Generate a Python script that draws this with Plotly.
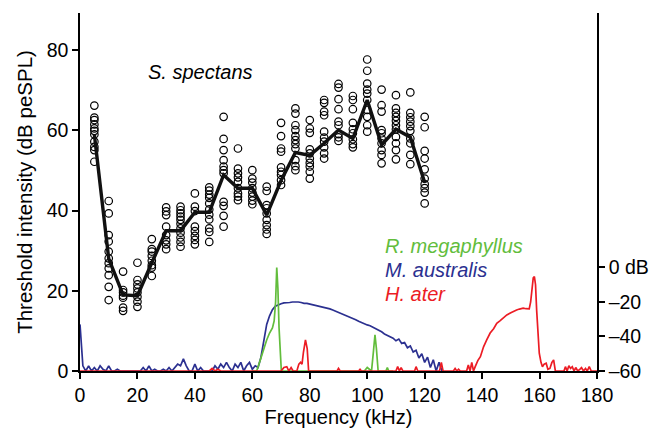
import plotly.graph_objects as go

# --- Behavioural thresholds of S. spectans ---
freqs = [5, 10, 15, 20, 25, 30, 35, 40, 45, 50, 55, 60, 65, 70, 75, 80, 85, 90, 95, 100, 105, 110, 115, 120]
thresholds = [
    [66.2, 63.2, 62.6, 61.5, 60.5, 59.9, 59.0, 57.2, 55.9, 55.1, 52.2],
    [42.4, 39.3, 33.9, 32.3, 29.8, 28.1, 26.9, 25.6, 23.9, 21.0, 17.7],
    [24.8, 20.2, 19.6, 18.8, 18.3, 15.8, 15.0],
    [27.0, 22.7, 21.6, 20.6, 19.6, 18.5, 17.3, 16.0],
    [32.9, 30.4, 29.8, 28.7, 27.5, 26.4, 25.8, 23.7],
    [40.8, 39.8, 38.9, 36.0, 33.9, 32.6, 31.6, 30.4],
    [41.0, 40.1, 39.3, 38.5, 37.7, 36.7, 35.6, 34.5, 33.3, 32.2, 31.0],
    [44.3, 41.0, 39.9, 36.0, 34.9, 33.7, 32.7, 31.6],
    [45.8, 45.0, 44.0, 43.2, 41.8, 40.3, 39.0, 37.8, 35.6, 34.7, 32.2],
    [63.4, 57.9, 55.1, 52.6, 51.0, 50.1, 49.3, 42.2, 41.2, 38.7, 36.0],
    [55.5, 50.5, 49.3, 48.3, 47.2, 45.6, 44.3, 43.5, 42.6],
    [50.1, 48.0, 47.0, 45.6, 44.5, 43.5, 42.5, 41.6],
    [46.0, 44.9, 41.4, 40.6, 39.3, 37.7, 36.4, 35.3, 34.2],
    [61.9, 58.6, 55.5, 54.7, 50.8, 49.7, 48.9, 47.6, 46.4],
    [65.5, 64.2, 61.3, 60.1, 58.6, 57.6, 56.6, 55.5, 52.6, 51.1, 50.1],
    [62.6, 60.5, 59.4, 55.3, 54.3, 53.0, 51.9, 51.0, 49.7, 48.0],
    [67.6, 66.9, 64.7, 63.8, 59.7, 58.2, 57.2, 55.8, 54.3, 53.0],
    [71.6, 70.7, 67.8, 65.3, 62.2, 61.3, 59.1, 58.3, 57.4],
    [68.6, 67.6, 65.3, 61.9, 60.3, 59.3, 57.8, 56.6, 55.8],
    [77.7, 74.9, 71.7, 70.2, 69.2, 67.6, 65.1, 63.4, 61.3, 59.7],
    [70.2, 66.3, 64.7, 60.1, 59.3, 58.0, 56.8, 55.1, 53.9, 51.8],
    [68.8, 65.5, 64.4, 63.4, 62.4, 61.3, 60.3, 58.4, 56.8, 55.1, 52.8],
    [69.5, 64.4, 63.3, 62.2, 61.1, 59.9, 58.0, 56.8, 53.9, 51.6],
    [63.4, 60.8, 54.9, 53.0, 50.3, 48.0, 46.6, 45.6, 44.5, 41.8],
]
mean_threshold = [59.0, 28.0, 19.0, 18.8, 27.0, 35.0, 35.0, 39.6, 39.6, 48.9, 45.6, 45.6,
                  38.9, 47.5, 54.5, 53.8, 56.8, 60.1, 58.0, 67.6, 56.4, 60.3, 58.3, 47.0]

# --- Echolocation call spectra (relative dB) ---
australis_khz = list(range(0, 127))
australis_db = [
    -33, -57, -60, -57, -60, -58, -60, -57, -59, -60,
    -57, -60, -60, -59, -60, -60, -60, -60, -60, -60,
    -60, -60, -58, -60, -57, -60, -59, -60, -60, -59,
    -60, -58, -60, -58, -56, -57, -53, -57, -60, -60,
    -56, -60, -58, -60, -60, -60, -60, -57, -59, -56,
    -58, -55, -58, -60, -56, -58, -55, -60, -57, -55,
    -59, -57, -58, -52, -42, -33, -28, -24.5, -22.5, -21.5,
    -21, -20.5, -20.5, -20.3, -20, -19.8, -20, -20.3, -20.8, -20.8,
    -21.2, -21.5, -21.6, -22, -22.4, -23, -23.3, -24, -24.6, -25.3,
    -25.8, -26.6, -27.3, -28, -28.8, -29.5, -30.3, -31.2, -32, -32.5,
    -33.3, -33.8, -34.6, -35.5, -36.4, -37.3, -38.5, -39.2, -40.3, -41,
    -42.5, -41.5, -44, -43.5, -46.5, -45.5, -49, -48, -52.5, -50,
    -55, -52, -58, -53.5, -60, -55, -60,
]

megaphyllus_khz = [60, 61.5, 62.5, 63.8, 65, 66, 67, 67.6, 68.1, 68.5, 68.9, 69.3, 69.7, 70.1, 71,
                   99, 100, 101.5, 102.2, 102.7, 103.2, 103.8, 105, 106.5, 107, 107.5, 109]
megaphyllus_db = [-60, -60, -55, -48, -42, -38, -35, -31, -20, 0, -12, -35, -50, -60, -60,
                  -60, -58, -60, -48, -39, -47, -60, -60, -60, -58, -60, -60]

ater_khz = [0, 45, 46, 47, 48, 49,
            70, 71, 72, 72.7, 73.5, 74.2, 75.5, 76.2, 76.8, 77.3, 77.8, 78.5, 79.1, 79.6, 80,
            89.5, 90, 90.6, 97, 97.5, 98,
            110, 110.6, 111.2, 111.8, 112.4, 116.5, 117, 117.6,
            125.2, 125.8, 126.4, 130, 130.6, 131.2, 131.8, 132.4,
            134.6, 135.2, 135.8, 136.4, 137, 137.6,
            138.5, 139.4, 140.5, 141.6, 142.8, 144, 145.1, 146.3, 147.5, 148.6, 150, 151, 152, 153,
            154.3, 155.3, 156.4, 156.9, 157.3, 157.8, 158.2, 158.6, 159, 159.4, 159.9, 160.5, 161,
            161.6, 162.3, 162.9, 163.6, 164.3, 164.9, 165.5, 166,
            168.5, 169, 169.6, 170.2, 170.8, 171.4, 172, 172.6, 173.3, 174, 174.6, 175.3, 176,
            176.6, 177.3, 178, 180]
ater_db = [-60, -60, -58.5, -60, -59, -60,
           -60, -58, -57.5, -60, -58, -60, -60, -56, -55, -56, -49, -42, -47, -60, -60,
           -60, -58.5, -60, -60, -59, -60,
           -60, -57.5, -60, -58, -60, -60, -57.5, -60,
           -60, -55, -60, -60, -58.5, -60, -59, -60,
           -60, -56.5, -60, -55, -60, -57.5,
           -54, -51.7, -46, -42, -38, -35.5, -32.3, -30.8, -29, -27.5, -26.3, -25.3, -24.6, -24.1,
           -23.6, -23.9, -24, -20, -14, -6, -5.3, -10, -25, -38, -49.7, -55, -57.5,
           -56, -55.5, -59, -58.5, -55, -53.6, -60, -60,
           -60, -57.5, -60, -57, -58.5, -57.5, -60, -58, -60, -59, -58, -60, -58.5,
           -60, -57.5, -60, -60]

x_ticks = [0, 20, 40, 60, 80, 100, 120, 140, 160, 180]
y_ticks = [0, 20, 40, 60, 80]
db_ticks = [0, -20, -40, -60]
db_tick_labels = ["0 dB", "\u201320", "\u201340", "\u201360"]

GREEN = "#62bd3c"
BLUE = "#2b3090"
RED = "#ec1c24"
FONT = "Liberation Sans, Arial, Helvetica, sans-serif"

pts_x, pts_y = [], []
for f, vals in zip(freqs, thresholds):
    pts_x += [f] * len(vals)
    pts_y += vals

fig = go.Figure()

# call spectra on the right-hand dB axis
fig.add_trace(go.Scatter(x=australis_khz, y=australis_db, mode="lines", yaxis="y2",
                         line=dict(color=BLUE, width=1.7), showlegend=False))
fig.add_trace(go.Scatter(x=megaphyllus_khz, y=megaphyllus_db, mode="lines", yaxis="y2",
                         line=dict(color=GREEN, width=1.7), showlegend=False))
fig.add_trace(go.Scatter(x=ater_khz, y=ater_db, mode="lines", yaxis="y2",
                         line=dict(color=RED, width=1.7), showlegend=False))

# thresholds
fig.add_trace(go.Scatter(x=pts_x, y=pts_y, mode="markers",
                         marker=dict(symbol="circle-open", size=7.5, color="black",
                                     line=dict(width=1.2, color="black")),
                         showlegend=False))
fig.add_trace(go.Scatter(x=freqs, y=mean_threshold, mode="lines",
                         line=dict(color="#111111", width=3.4), showlegend=False))

fig.add_annotation(x=41.8, y=74.6, text="<i>S. spectans</i>", showarrow=False,
                   xanchor="center", yanchor="middle", font=dict(size=20, color="black", family=FONT))
fig.add_annotation(x=105.5, y=31.2, text="<i>R. megaphyllus</i>", showarrow=False,
                   xanchor="left", yanchor="middle", font=dict(size=20, color=GREEN, family=FONT))
fig.add_annotation(x=105.5, y=25.2, text="<i>M. australis</i>", showarrow=False,
                   xanchor="left", yanchor="middle", font=dict(size=20, color=BLUE, family=FONT))
fig.add_annotation(x=105.5, y=19.2, text="<i>H. ater</i>", showarrow=False,
                   xanchor="left", yanchor="middle", font=dict(size=20, color=RED, family=FONT))

axis_common = dict(showgrid=False, zeroline=False, showline=True, linecolor="black", linewidth=1.5,
                   ticks="outside", ticklen=6, tickwidth=1.5, tickcolor="black", automargin=False,
                   tickfont=dict(size=19.5, color="black", family=FONT))

# the page adds an 8 px body margin, so the margins below compensate for it
fig.update_layout(
    width=665, height=434,
    margin=dict(l=72, r=76, t=5, b=71),
    paper_bgcolor="white", plot_bgcolor="white",
    font=dict(family=FONT, color="black"),
    xaxis=dict(range=[0, 180], tickvals=x_ticks,
               title=dict(text="Frequency (kHz)", font=dict(size=20, family=FONT), standoff=2),
               **axis_common),
    yaxis=dict(range=[0, 89.3], tickvals=y_ticks,
               title=dict(text="Threshold intensity (dB peSPL)", font=dict(size=20.5, family=FONT), standoff=8),
               **axis_common),
    yaxis2=dict(range=[-60, 147.5], overlaying="y", side="right", tickvals=db_ticks,
                ticktext=db_tick_labels, **axis_common),
)

fig.write_html("out.html")
